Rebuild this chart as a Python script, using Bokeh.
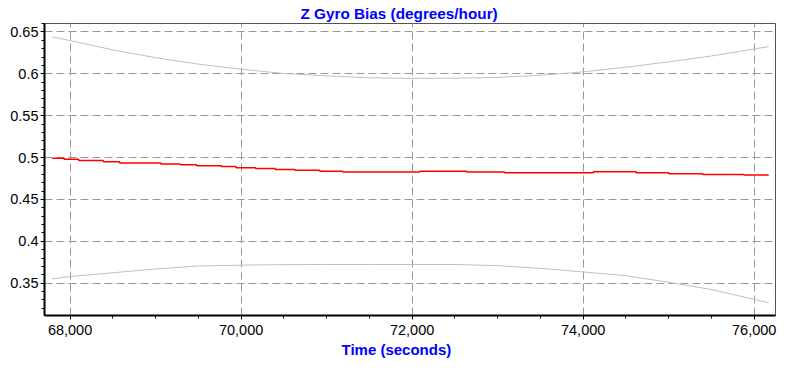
import numpy as np
from bokeh.plotting import figure
from bokeh.models import Range1d, FixedTicker, Title
from bokeh.embed import file_html
from bokeh.resources import INLINE

# ---- data ----
band_time = [67790, 68000, 68500, 69000, 69500, 70000, 70500, 71000, 71500, 72000,
             72500, 73000, 73500, 74000, 74500, 75000, 75500, 76000, 76170]
upper_band = [0.6440, 0.6396, 0.6285, 0.6192, 0.6115, 0.6054, 0.6003, 0.5975, 0.5952, 0.5945,
              0.5948, 0.5956, 0.5982, 0.6023, 0.6078, 0.6142, 0.6212, 0.6297, 0.6323]
lower_band = [0.3551, 0.3581, 0.3625, 0.3670, 0.3706, 0.3716, 0.3722, 0.3724, 0.3724, 0.3724,
              0.3724, 0.3710, 0.3678, 0.3635, 0.3590, 0.3512, 0.3425, 0.3308, 0.3266]

bias_time = [67790, 67930, 68100, 68390, 68580, 69060, 69290, 69480, 69770, 69940, 70170,
             70400, 70630, 70920, 71190, 72090, 72640, 73080, 74120, 74620, 75000, 75400,
             75880, 76170]
bias_value = [0.4992, 0.4980, 0.4965, 0.4949, 0.4934, 0.4923, 0.4915, 0.4903, 0.4892, 0.4877,
              0.4869, 0.4857, 0.4850, 0.4838, 0.4829, 0.4838, 0.4827, 0.4819, 0.4830, 0.4819,
              0.4807, 0.4799, 0.4792, 0.4792]

x_ticks = [68000, 70000, 72000, 74000, 76000]
x_tick_labels = ["68,000", "70,000", "72,000", "74,000", "76,000"]
y_ticks = [0.35, 0.40, 0.45, 0.50, 0.55, 0.60, 0.65]
y_tick_labels = ["0.35", "0.4", "0.45", "0.5", "0.55", "0.6", "0.65"]

title_text = "Z Gyro Bias (degrees/hour)"
x_label = "Time (seconds)"

FONT = "Liberation Sans"
BLUE = "#0000FF"

p = figure(width=777, height=358, output_backend="svg", toolbar_location=None,
           x_range=Range1d(67701, 76249), y_range=Range1d(0.3115, 0.660),
           min_border_left=44, min_border_right=2, min_border_top=0, min_border_bottom=0,
           background_fill_color="white", border_fill_color="white")

p.title = Title(text=title_text, align="left", offset=256, text_font=FONT,
                text_font_size="15.3px", text_font_style="bold", text_color=BLUE, standoff=4)
p.add_layout(Title(text=x_label, align="left", offset=297, text_font=FONT,
                   text_font_size="15px", text_font_style="bold", text_color=BLUE, standoff=2),
             "below")

p.line(band_time, upper_band, line_color="#C0C0C0", line_width=1)
p.line(band_time, lower_band, line_color="#C0C0C0", line_width=1)
p.step(bias_time, bias_value, mode="after", line_color="#FF0000", line_width=1.5)

x_minor = [float(v) for v in np.arange(67500, 76500, 500) if v not in x_ticks]
y_minor = [round(float(v), 2) for v in np.arange(0.31, 0.665, 0.01)]
xt = FixedTicker(ticks=x_ticks, minor_ticks=x_minor)
yt = FixedTicker(ticks=y_ticks, minor_ticks=y_minor)
p.xaxis.ticker = xt
p.yaxis.ticker = yt
p.xaxis.major_label_overrides = dict(zip(x_ticks, x_tick_labels))
p.yaxis.major_label_overrides = dict(zip(y_ticks, y_tick_labels))

for ax in (p.xaxis[0], p.yaxis[0]):
    ax.axis_line_color = "black"
    ax.axis_line_width = 2
    ax.major_tick_line_color = "black"
    ax.minor_tick_line_color = "black"
    ax.major_tick_out = 4
    ax.major_tick_in = 0
    ax.minor_tick_out = 3
    ax.minor_tick_in = 0
    ax.major_label_text_font = FONT
    ax.major_label_text_font_size = "14.5px"
    ax.major_label_text_color = "black"
    ax.major_label_standoff = 2
p.xaxis.major_label_standoff = 5

p.xgrid.ticker = xt
p.ygrid.ticker = yt
for g in (p.xgrid[0], p.ygrid[0]):
    g.grid_line_color = "#999999"
    g.grid_line_dash = "8 4"
    g.grid_line_width = 1

p.outline_line_color = "#555555"
p.outline_line_width = 1

open("out.html", "w").write(file_html(p, INLINE))
